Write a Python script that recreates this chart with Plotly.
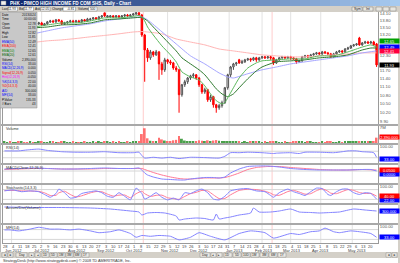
import numpy as np
import pandas as pd
import plotly.graph_objects as go

W, H = 400, 263
FONT = "Liberation Sans, Arial, sans-serif"

# ------------------------------------------------------------------ data
dates = pd.bdate_range("2012-05-25", "2013-05-24")   # trading-day axis
bar_dates = dates[::2]                                # one candle per 2 sessions

open_ = [13.47, 13.51, 13.56, 13.47, 13.51, 13.60, 13.56, 13.65, 13.60, 13.56,
         13.65, 13.60, 13.65, 13.69, 13.60, 13.65, 13.74, 13.78, 13.74, 13.83,
         13.78, 13.65, 13.69, 13.74, 13.78, 13.74, 13.78, 13.74, 13.83, 13.78,
         13.83, 13.87, 13.92, 13.87, 13.96, 14.15, 13.96, 13.96, 14.01, 13.96,
         14.01, 13.96, 14.01, 14.05, 14.01, 14.05, 14.10, 14.15, 14.05, 13.16,
         12.53, 12.21, 12.45, 12.33, 12.45, 11.97, 11.74, 12.13, 12.05, 12.01,
         11.81, 11.74, 10.82, 11.18, 11.29, 11.43, 11.51, 11.55, 11.43, 11.18,
         10.92, 11.00, 10.64, 10.75, 10.47, 10.37, 10.44, 10.54, 11.07, 11.55,
         11.85, 11.97, 12.13, 12.01, 12.05, 12.13, 12.17, 12.13, 12.21, 12.13,
         12.21, 12.25, 12.21, 12.25, 12.21, 12.01, 12.13, 12.21, 12.25, 12.21,
         12.25, 12.21, 12.17, 12.05, 12.09, 12.25, 12.29, 12.25, 12.33, 12.37,
         12.41, 12.37, 12.45, 12.41, 12.37, 12.25, 12.37, 12.45, 12.49, 12.45,
         12.57, 12.61, 12.70, 12.74, 13.03, 12.74, 12.82, 12.86, 12.82, 12.86,
         12.78]
high_ = [13.56, 13.60, 13.60, 13.56, 13.65, 13.65, 13.69, 13.69, 13.65, 13.69,
         13.69, 13.69, 13.74, 13.74, 13.69, 13.78, 13.83, 13.83, 13.87, 13.87,
         13.83, 13.74, 13.78, 13.83, 13.83, 13.83, 13.83, 13.87, 13.87, 13.92,
         13.92, 13.96, 13.96, 14.01, 14.05, 14.15, 14.05, 14.05, 14.05, 14.05,
         14.05, 14.05, 14.10, 14.10, 14.10, 14.15, 14.19, 14.19, 14.10, 13.21,
         12.61, 12.53, 12.49, 12.53, 12.49, 12.05, 12.21, 12.17, 12.13, 12.05,
         11.89, 11.78, 11.21, 11.36, 11.47, 11.55, 11.62, 11.58, 11.47, 11.21,
         11.07, 11.03, 10.82, 10.78, 10.50, 10.50, 10.61, 11.10, 11.59, 11.89,
         12.01, 12.05, 12.17, 12.13, 12.17, 12.21, 12.21, 12.25, 12.25, 12.25,
         12.29, 12.29, 12.29, 12.29, 12.25, 12.17, 12.25, 12.29, 12.29, 12.29,
         12.29, 12.25, 12.21, 12.13, 12.29, 12.33, 12.33, 12.37, 12.41, 12.45,
         12.45, 12.49, 12.49, 12.45, 12.41, 12.41, 12.49, 12.53, 12.53, 12.61,
         12.66, 12.74, 12.78, 12.82, 13.08, 12.86, 12.91, 12.91, 12.91, 12.91,
         12.82]
low_ = [13.42, 13.47, 13.42, 13.42, 13.47, 13.51, 13.51, 13.56, 13.51, 13.51,
        13.56, 13.56, 13.60, 13.56, 13.56, 13.60, 13.69, 13.69, 13.69, 13.74,
        13.60, 13.60, 13.65, 13.69, 13.69, 13.69, 13.69, 13.69, 13.74, 13.74,
        13.78, 13.83, 13.83, 13.83, 13.92, 13.96, 13.92, 13.92, 13.92, 13.92,
        13.92, 13.92, 13.96, 13.96, 13.96, 14.01, 14.05, 14.01, 13.08, 11.29,
        12.05, 12.13, 12.25, 12.29, 11.36, 11.55, 11.66, 11.97, 11.93, 11.74,
        11.66, 10.20, 10.75, 11.10, 11.21, 11.36, 11.43, 11.36, 11.10, 10.85,
        10.85, 10.57, 10.57, 10.37, 10.20, 10.30, 10.37, 10.50, 11.00, 11.47,
        11.74, 11.89, 11.97, 11.97, 12.01, 12.09, 12.05, 12.09, 12.05, 12.09,
        12.17, 12.17, 12.17, 12.13, 11.93, 11.97, 12.09, 12.17, 12.17, 12.17,
        12.13, 12.13, 11.97, 12.01, 12.05, 12.21, 12.21, 12.21, 12.29, 12.33,
        12.33, 12.33, 12.37, 12.33, 12.21, 12.21, 12.33, 12.41, 12.41, 12.41,
        12.53, 12.57, 12.66, 12.70, 12.70, 12.70, 12.78, 12.78, 12.78, 12.70,
        11.85]
close_ = [13.51, 13.56, 13.47, 13.51, 13.60, 13.56, 13.65, 13.60, 13.56, 13.65,
          13.60, 13.65, 13.69, 13.60, 13.65, 13.74, 13.78, 13.74, 13.83, 13.78,
          13.65, 13.69, 13.74, 13.78, 13.74, 13.78, 13.74, 13.83, 13.78, 13.87,
          13.87, 13.92, 13.87, 13.96, 14.01, 14.01, 14.01, 14.01, 13.96, 14.01,
          13.96, 14.01, 14.05, 14.01, 14.05, 14.10, 14.15, 14.05, 13.16, 12.53,
          12.21, 12.45, 12.33, 12.45, 11.97, 11.74, 12.13, 12.05, 12.01, 11.81,
          11.74, 10.82, 11.18, 11.29, 11.43, 11.51, 11.55, 11.43, 11.18, 10.92,
          11.00, 10.64, 10.75, 10.47, 10.37, 10.44, 10.54, 11.07, 11.55, 11.85,
          11.97, 12.01, 12.01, 12.05, 12.13, 12.17, 12.13, 12.21, 12.13, 12.21,
          12.25, 12.21, 12.25, 12.21, 12.01, 12.13, 12.21, 12.25, 12.21, 12.25,
          12.21, 12.17, 12.05, 12.09, 12.25, 12.29, 12.25, 12.33, 12.37, 12.41,
          12.37, 12.45, 12.41, 12.37, 12.25, 12.37, 12.45, 12.49, 12.45, 12.57,
          12.61, 12.70, 12.74, 12.78, 12.74, 12.82, 12.86, 12.82, 12.86, 12.74,
          11.93]
volume_m = [0.45, 0.38, 0.52, 0.41, 0.36, 0.48, 0.55, 0.40, 0.33, 0.47,
            0.39, 0.44, 0.50, 0.62, 0.42, 0.37, 0.46, 0.58, 0.41, 0.35,
            0.82, 0.49, 0.40, 0.38, 0.52, 0.44, 0.36, 0.41, 0.47, 0.39,
            0.43, 0.50, 0.37, 0.45, 0.40, 0.72, 0.48, 0.42, 0.53, 0.39,
            0.46, 0.41, 0.44, 0.51, 0.38, 0.47, 0.55, 0.62, 4.0, 6.6,
            2.1, 1.0, 0.8, 0.9, 2.3, 1.6, 1.1, 0.8, 0.9, 1.2,
            1.4, 3.1, 1.9, 1.1, 0.9, 0.7, 0.8, 0.9, 1.2, 1.0,
            0.9, 1.2, 0.9, 1.1, 1.3, 1.0, 0.8, 0.9, 0.8, 0.6,
            0.5, 0.45, 0.55, 0.4, 0.5, 0.42, 0.48, 0.6, 0.85, 0.45,
            0.4, 0.52, 0.38, 0.47, 0.7, 0.5, 0.43, 0.4, 0.46, 0.39,
            0.44, 0.52, 0.75, 0.9, 0.48, 0.41, 0.45, 0.5, 0.37, 0.44,
            0.4, 0.46, 0.39, 0.55, 0.48, 0.42, 0.4, 0.47, 0.43, 0.52,
            0.45, 0.5, 0.58, 0.62, 0.9, 0.55, 0.48, 0.52, 0.5, 0.7,
            2.39]

# moving averages, read at sample candles (candle numbers)
ema200_k = [0, 5, 10, 15, 20, 25, 30, 35, 40, 45, 48, 50, 55, 60, 65, 70, 75, 80, 85, 90,
            95, 100, 105, 110, 115, 120, 125, 130]
ema200 = [12.74, 12.78, 12.84, 12.91, 12.95, 13.01, 13.08, 13.14, 13.21, 13.29, 13.31, 13.29,
          13.21, 12.99, 12.86, 12.74, 12.57, 12.49, 12.41, 12.33, 12.29, 12.25, 12.25, 12.29,
          12.33, 12.37, 12.41, 12.41]
ema50_k = [0, 5, 10, 15, 20, 25, 30, 35, 40, 45, 48, 50, 55, 60, 65, 70, 75, 78, 80, 85,
           90, 95, 100, 105, 110, 115, 120, 125, 130]
ema50 = [13.08, 13.14, 13.21, 13.34, 13.47, 13.56, 13.65, 13.78, 13.87, 13.94, 13.96, 13.83,
         13.30, 12.78, 12.29, 11.97, 11.62, 11.47, 11.43, 11.59, 11.74, 11.85, 11.97, 12.05,
         12.13, 12.21, 12.29, 12.41, 12.49]
ema10_k = [0, 5, 10, 15, 20, 25, 30, 35, 40, 45, 47, 48, 49, 50, 52, 55, 58, 60, 62, 65,
           68, 70, 72, 74, 76, 77, 78, 80, 82, 85, 88, 90, 95, 100, 105, 110, 115, 120, 125,
           128, 130]
ema10 = [13.47, 13.49, 13.51, 13.60, 13.69, 13.69, 13.78, 13.92, 13.92, 13.99, 14.03, 13.96,
         13.78, 13.51, 13.16, 12.70, 12.33, 12.05, 11.66, 11.47, 11.36, 11.14, 10.85, 10.61,
         10.50, 10.54, 10.71, 11.07, 11.43, 11.81, 12.01, 12.09, 12.13, 12.17, 12.17, 12.29,
         12.29, 12.45, 12.65, 12.74, 12.65]
ema20_k = [0, 5, 10, 15, 20, 25, 30, 35, 40, 45, 48, 50, 52, 55, 58, 60, 62, 65, 68, 70,
           72, 74, 76, 78, 80, 82, 85, 88, 90, 95, 100, 105, 110, 115, 120, 125, 128, 130]
ema20 = [13.42, 13.42, 13.47, 13.51, 13.60, 13.62, 13.69, 13.83, 13.87, 13.92, 13.94, 13.78,
         13.51, 13.12, 12.74, 12.49, 12.21, 11.97, 11.74, 11.55, 11.29, 11.03, 10.85, 10.75,
         10.85, 11.07, 11.40, 11.70, 11.85, 12.05, 12.09, 12.13, 12.21, 12.25, 12.33, 12.53,
         12.61, 12.61]

rsi_k = [0, 5, 8, 12, 15, 20, 25, 30, 35, 40, 45, 47, 48, 49, 52, 55, 58, 61, 65, 70,
         75, 77, 79, 82, 85, 90, 94, 95, 100, 103, 105, 110, 115, 118, 120, 123, 125, 129, 130]
rsi = [72, 72, 78, 83, 75, 67, 64, 64, 67, 61, 61, 64, 44, 28, 33, 28, 33, 25, 33, 31,
       28, 39, 61, 61, 64, 61, 56, 58, 61, 56, 64, 64, 61, 67, 72, 72, 67, 61, 33]

macd_k = [0, 5, 10, 15, 20, 25, 30, 35, 40, 45, 47, 48, 49, 50, 52, 55, 58, 61, 63, 65,
          68, 70, 73, 75, 77, 79, 82, 85, 88, 92, 96, 100, 105, 110, 115, 120, 125, 128, 130]
macd = [0.10, 0.125, 0.15, 0.125, 0.10, 0.10, 0.125, 0.15, 0.125, 0.125, 0.15, 0.05, -0.10,
        -0.20, -0.30, -0.40, -0.425, -0.45, -0.45, -0.40, -0.35, -0.325, -0.325, -0.35, -0.30,
        -0.10, 0.10, 0.225, 0.25, 0.25, 0.20, 0.125, 0.075, 0.05, 0.05, 0.05, 0.075, 0.075, 0.0]
signal_k = [0, 5, 10, 15, 20, 25, 30, 35, 40, 45, 48, 49, 50, 52, 55, 58, 61, 63, 65, 68,
            70, 75, 77, 79, 82, 85, 88, 92, 96, 100, 105, 110, 115, 120, 125, 130]
signal = [0.075, 0.10, 0.125, 0.125, 0.10, 0.10, 0.10, 0.125, 0.125, 0.125, 0.125, 0.075,
          0.025, -0.075, -0.20, -0.30, -0.375, -0.40, -0.40, -0.375, -0.35, -0.35, -0.325,
          -0.25, -0.10, 0.075, 0.175, 0.225, 0.225, 0.175, 0.125, 0.075, 0.05, 0.05, 0.075, 0.05]

stoch_k = [0, 3, 6, 9, 12, 14, 16, 18, 19, 21, 23, 25, 27, 30, 32, 34, 36, 38, 40, 42,
           44, 46, 48, 49, 51, 53, 55, 57, 59, 61, 63, 65, 67, 69, 71, 73, 75, 77, 79, 82,
           85, 88, 91, 93, 94, 96, 99, 101, 103, 105, 107, 109, 111, 113, 114, 116, 118, 120,
           122, 124, 126, 128, 130]
pct_k = [72, 78, 67, 72, 67, 50, 33, 56, 83, 61, 28, 33, 56, 67, 72, 61, 39, 33, 61, 39,
         17, 89, 56, 22, 39, 61, 33, 17, 28, 17, 61, 56, 72, 83, 61, 22, 17, 39, 72, 83,
         86, 72, 67, 44, 33, 61, 83, 67, 56, 44, 67, 89, 86, 50, 44, 67, 83, 83, 61, 50,
         61, 56, 22]
pct_d = [74, 75, 72, 71, 69, 60, 44, 45, 60, 70, 50, 35, 42, 60, 68, 67, 52, 40, 46, 47,
         30, 55, 70, 55, 38, 45, 46, 30, 25, 20, 38, 55, 63, 75, 72, 48, 25, 26, 48, 75,
         82, 80, 70, 58, 48, 45, 68, 75, 65, 52, 55, 73, 85, 70, 58, 55, 68, 80, 75, 62,
         56, 57, 40]

ad_k = [0, 9, 19, 30, 37, 44, 47, 48, 50, 53, 56, 60, 61, 63, 67, 70, 73, 74, 75, 77,
        79, 82, 86, 87, 89, 93, 96, 100, 103, 107, 110, 114, 117, 122, 126, 130]
ad_m = [0.90, 0.825, 0.825, 0.75, 0.60, 0.30, 0.15, -0.30, 0.00, 0.075, 0.00, -0.45, -1.05,
        -0.90, -0.75, -0.825, -1.05, -0.15, -0.90, -0.75, -0.60, -0.30, 0.00, 0.75, 0.15,
        0.15, 0.30, 0.60, 0.15, 0.075, 0.00, 0.075, 0.15, 0.60, 0.45, 0.30]

mfi_k = [0, 2, 5, 9, 12, 16, 19, 23, 26, 30, 33, 37, 40, 44, 46, 48, 51, 54, 58, 61,
         65, 68, 72, 77, 82, 86, 91, 94, 100, 103, 107, 110, 112, 115, 117, 121, 124, 128, 130]
mfi = [78, 78, 72, 83, 94, 83, 83, 78, 83, 72, 61, 67, 78, 56, 33, 44, 39, 44, 39, 17,
       33, 61, 39, 17, 56, 72, 61, 28, 56, 50, 67, 72, 89, 67, 61, 72, 67, 56, 33]

# price-axis labels (12.90, 12.60 and 12.00 sit under the value boxes and are not visible)
price_ticks = [9.90, 10.20, 10.50, 10.80, 11.10, 11.40, 11.70, 12.30,
               13.20, 13.50, 13.80, 14.10]
marker_dates = ["2012-10-09", "2013-02-12"]
title_text = "PHK - PIMCO HIGH INCOME FD COM SHS, Daily - Chart"
bid, ask, quote_vol = "11.77", "12.05", "500"

# ------------------------------------------------------------------ helpers
day_pos = {d: i for i, d in enumerate(dates)}
bar_x = [day_pos[d] for d in bar_dates]


def kx(ks):
    return [bar_x[k] for k in ks]


def py(p):
    return 1 - p / H


X0, X1 = 3, 378
FRAME = "#9a9a9a"
PANELS = [(12, 124), (126, 143), (145, 163), (165, 183), (185, 203), (205, 223), (225, 243)]

fig = go.Figure()
layout = {}
for i, (top, bot) in enumerate(PANELS):
    n = "" if i == 0 else str(i + 1)
    layout["xaxis" + n] = dict(domain=[X0 / W, X1 / W], range=[-1, len(dates)], anchor="y" + n,
                               showgrid=False, zeroline=False, showline=True, mirror=True,
                               linecolor=FRAME, linewidth=1, showticklabels=False, ticks="",
                               fixedrange=True)
    layout["yaxis" + n] = dict(domain=[py(bot), py(top)], anchor="x" + n, side="right",
                               showgrid=False, zeroline=False, showline=True, mirror=True,
                               linecolor=FRAME, linewidth=1, ticks="", fixedrange=True,
                               tickfont=dict(size=4.3, color="#555", family=FONT),
                               showticklabels=False)
layout["xaxis"]["rangeslider"] = dict(visible=False)
layout["yaxis"].update(type="log", range=[np.log10(9.83), np.log10(14.19)], showticklabels=True,
                       tickvals=price_ticks, ticktext=[f"{v:.2f}" for v in price_ticks])
layout["yaxis2"].update(range=[0, 7.6e6], showticklabels=True, tickvals=[7e6], ticktext=["7M"])
for ax in ("yaxis3", "yaxis5", "yaxis7"):
    layout[ax].update(range=[-2, 108], showticklabels=True, tickvals=[100], ticktext=["100.00"])
layout["yaxis4"].update(range=[-0.60, 0.30])
layout["yaxis6"].update(range=[-1.5, 1.2])

# ------------------------------------------------------------------ traces
ma_specs = [(ema200_k, ema200, "#ffb4b4"), (ema50_k, ema50, "#a6a6ff"),
            (ema20_k, ema20, "#2f7a2f"), (ema10_k, ema10, "#5cb85c")]
for ks, vals, col in ma_specs:
    fig.add_trace(go.Scatter(x=kx(ks), y=vals, mode="lines", xaxis="x", yaxis="y",
                             line=dict(color=col, width=1, shape="spline", smoothing=0.5),
                             hoverinfo="skip", showlegend=False))
fig.add_trace(go.Candlestick(x=bar_x, open=open_, high=high_, low=low_, close=close_,
                             xaxis="x", yaxis="y", whiskerwidth=0,
                             increasing=dict(line=dict(color="#505050", width=1), fillcolor="#ffffff"),
                             decreasing=dict(line=dict(color="#ff0000", width=1), fillcolor="#ff0000"),
                             hoverinfo="skip", showlegend=False))

vcol = ["#ff7070" if c < o else "#4aa04a" for o, c in zip(open_, close_)]
fig.add_trace(go.Bar(x=bar_x, y=[v * 1e6 for v in volume_m], width=1.3, xaxis="x2", yaxis="y2",
                     marker=dict(color=vcol, line=dict(width=0)), hoverinfo="skip", showlegend=False))


def line(ks, vals, col, n, w=1):
    fig.add_trace(go.Scatter(x=kx(ks), y=vals, mode="lines", xaxis="x" + n, yaxis="y" + n,
                             line=dict(color=col, width=w, shape="spline", smoothing=0.5),
                             hoverinfo="skip", showlegend=False))


BLUE_L = "#8484ff"
RED_L = "#ff7a96"
line(rsi_k, rsi, BLUE_L, "3")
line(signal_k, signal, RED_L, "4")
line(macd_k, macd, BLUE_L, "4")
line(stoch_k, pct_d, RED_L, "5")
line(stoch_k, pct_k, BLUE_L, "5")
line(ad_k, ad_m, BLUE_L, "6")
line(mfi_k, mfi, BLUE_L, "7")

# ------------------------------------------------------------------ shapes
shapes = []
annotations = []


def rect(x0, y0, x1, y1, fill, lc=None, layer="above", lw=1):
    shapes.append(dict(type="rect", xref="paper", yref="paper", x0=x0 / W, x1=x1 / W,
                       y0=py(y1), y1=py(y0), fillcolor=fill, layer=layer,
                       line=dict(color=lc or fill, width=lw if lc else 0)))


def text(x, y, s, size=4, color="#222", anchor="left", bold=False, pad=1):
    annotations.append(dict(xref="paper", yref="paper", x=x / W, y=py(y), text=(f"<b>{s}</b>" if bold else s),
                            showarrow=False, xanchor=anchor, yanchor="middle", borderpad=pad,
                            font=dict(size=size, color=color, family=FONT)))


# month grid lines and event markers
s_idx = pd.Series(range(len(dates)), index=dates)
month_first = s_idx.groupby([dates.year, dates.month]).first().tolist()[1:]
for i in month_first:
    shapes.append(dict(type="line", xref="x", yref="paper", x0=i, x1=i, y0=py(243), y1=py(12),
                       line=dict(color="#e2e2e2", width=1), layer="below"))
for d in marker_dates:
    i = day_pos[pd.Timestamp(d)]
    shapes.append(dict(type="line", xref="x", yref="paper", x0=i, x1=i, y0=py(243), y1=py(12),
                       line=dict(color="#ffcccc", width=1), layer="below"))

# horizontal reference lines in oscillators
for yref, v in [("y3", 30), ("y3", 70), ("y4", 0), ("y5", 20), ("y5", 80), ("y7", 20), ("y7", 80)]:
    shapes.append(dict(type="line", xref="paper", yref=yref, x0=X0 / W, x1=X1 / W, y0=v, y1=v,
                       line=dict(color="#d6d6d6", width=1), layer="below"))

# panel separators and window frame
for y0, y1 in [(124, 126), (143, 145), (163, 165), (183, 185), (203, 205), (223, 225)]:
    rect(0, y0, 400, y1, "#a8a8a8")
rect(0, 12, 1, 252, "#b8b8b8")
rect(398, 6, 400, 263, "#d4d0c8")

# title bar gradient
c0, c1 = np.array([10, 36, 106]), np.array([166, 202, 240])
for j in range(40):
    c = (c0 + (c1 - c0) * j / 39).astype(int)
    rect(j * 10, 0, j * 10 + 10, 6, f"rgb({c[0]},{c[1]},{c[2]})")
rect(1, 1, 6, 5, "#f0f0f0", "#808080", lw=0.5)
text(8, 3.2, title_text, size=4.6, color="white", bold=True)

# quote toolbar
rect(0, 6, 400, 12, "#d4d0c8")
last = close_[-1]
chg = close_[-1] - close_[-2]
for lab, x in [("Last", 0.6), ("Bid", 18.4), ("Ask", 34.4), ("Change", 51.0), ("Volume", 76.6)]:
    text(x, 9, lab, size=3.2, color="#111", pad=0)
for x0, x1, v in [(8, 17.5, f"{last:.2f}"), (24, 33.5, bid), (40.5, 50, ask),
                  (63, 75.5, f"{chg:+.2f}"), (88.5, 97, quote_vol)]:
    rect(x0, 7, x1, 11, "#ffffff", "#808080", lw=0.5)
    text(x1 - 0.5, 9, v, size=3.2, color="#111", anchor="right", pad=0)
for x0, x1, lab in [(352, 362, "Sym"), (363, 373, "Int")]:
    rect(x0, 7, x1, 11, "#e8e6e0", "#808080", lw=0.5)
    text((x0 + x1) / 2, 9, lab, size=3.4, anchor="center", pad=0)
for x0 in (376, 383, 390):
    rect(x0, 7, x0 + 6, 11, "#e8e6e0", "#808080", lw=0.5)

# data window (left)
rect(0, 12, 37, 108, "#c8c8c8", "#8a8a8a", lw=0.5)
rows = [("Date", dates[-1].strftime("%Y%m%d"), "#000"), ("Time", "00:00:00", "#000"),
        ("Open", f"{open_[-1]:.2f}", "#000"), ("Close", f"{close_[-1]:.2f}", "#000"),
        ("High", f"{high_[-1]:.2f}", "#000"), ("Low", f"{low_[-1]:.2f}", "#000"),
        ("EMA(50)", f"{ema50[-1]:.2f}", "#0000ff"), ("EMA(200)", f"{ema200[-1]:.2f}", "#ff0000"),
        ("EMA(10)", f"{ema10[-1]:.2f}", "#008000"), ("EMA(20)", f"{ema20[-1]:.2f}", "#006400"),
        ("Volume", f"{int(volume_m[-1] * 1e6):,}", "#000"), ("RSI(14)", f"{rsi[-1]:.2f}", "#0000ff"),
        ("MACD(12,26,9)", f"{macd[-1]:.3f}", "#0000ff"),
        ("Signal(12,26,9)", f"{signal[-1]:.3f}", "#ff0000"),
        ("Hist(12,26,9)", f"{macd[-1] - signal[-1]:.3f}", "#ff00ff"),
        ("%K(14,3,3)", f"{pct_k[-1]:.2f}", "#0000ff"), ("%D(14,3,3)", f"{pct_d[-1]:.2f}", "#ff0000"),
        ("A/D", f"{int(ad_m[-1] * 1e6):,}", "#0000ff"), ("MFI(14)", f"{mfi[-1]:.2f}", "#0000ff"),
        ("P.Value", "135.33", "#000"), ("# Bars", "43", "#000")]
for r, (lab, val, col) in enumerate(rows):
    yy = 15 + r * 4.45
    text(0.8, yy, lab, size=3.1, color=col, pad=0)
    text(36.5, yy, val, size=3.1, color="#111", anchor="right", pad=0)

# panel titles
for (top, _), lab in zip(PANELS[1:], ["Volume", "RSI(14)", "MACD(Close,12,26,9)", "Stochastic(14,3,3)",
                                        "Accum/Dist(Volume)", "MFI(14)"]):
    text(4, top + 3, lab, size=3.8, color="#333")


# value boxes on the right
def vbox(yc, color, s):
    annotations.append(dict(xref="paper", yref="paper", x=379 / W, y=py(yc), xanchor="left",
                            yanchor="middle", text=s, showarrow=False, bgcolor=color,
                            font=dict(size=4, color="white", family=FONT), width=19, height=4,
                            borderpad=0, align="center"))


vbox(41.5, "#00a000", f"{ema10[-1]:.2f}")
vbox(47.4, "#0000ff", f"{ema50[-1]:.2f}")
vbox(51.4, "#ff0040", f"{ema200[-1]:.2f}")
vbox(65.5, "#000000", f"{close_[-1]:.2f}")
vbox(137, "#ff0000", f"{int(volume_m[-1] * 1e6):,}")
vbox(158.5, "#0000ff", f"{rsi[-1]:.2f}")
vbox(174, "#0000ff", f"{macd[-1]:.4f}")
vbox(170, "#ff0000", f"{signal[-1]:.4f}")
vbox(200, "#0000ff", f"{pct_k[-1]:.2f}")
vbox(196, "#ff0000", f"{pct_d[-1]:.2f}")
vbox(211, "#0000ff", f"{int(ad_m[-1] * 1e6):,}")
vbox(237, "#0000ff", f"{mfi[-1]:.2f}")

# date axis labels (Mondays) and months
mondays = [i for i, d in enumerate(dates) if d.weekday() == 0]
seen = {(dates[0].year, dates[0].month)}
for i in mondays:
    d = dates[i]
    annotations.append(dict(xref="x", yref="paper", x=i, y=py(246.5), text=str(d.day), showarrow=False,
                            xanchor="center", yanchor="middle",
                            font=dict(size=4, color="#404040", family=FONT)))
    if (d.year, d.month) not in seen:
        seen.add((d.year, d.month))
        annotations.append(dict(xref="x", yref="paper", x=i, y=py(250.3), text=d.strftime("%b %Y"),
                                showarrow=False, xanchor="center", yanchor="middle",
                                font=dict(size=4, color="#404040", family=FONT)))

# bottom toolbar + copyright
rect(0, 252, 398, 258, "#d4d0c8")
btns = [(2, 7, "◄"), (8, 13, "►"), (16, 27, "Day"), (29, 34, "▸"), (35, 40, "◂"),
        (42, 49, "1D"), (50, 57, "5D"), (58, 65, "1M"), (66, 73, "3M"), (74, 81, "6M"),
        (82, 89, "1Y"), (200, 210, "Day"), (211, 216, "◂"), (217, 222, "▸"), (224, 232, "1D"),
        (233, 241, "5D"), (242, 250, "10D"), (251, 259, "1M"), (260, 268, "3M"),
        (269, 277, "6M"), (278, 286, "1Y"), (386, 391, "◄"), (392, 397, "►")]
for x0, x1, lab in btns:
    rect(x0, 252.8, x1, 257.2, "#ebe9e3", "#8c8c8c", lw=0.5)
    text((x0 + x1) / 2, 255, lab, size=3.2, color="#222", anchor="center", pad=0)
text(1, 260.5, "StrategyDesk (http://www.strategydesk.com) © 2008 TD AMERITRADE, Inc.",
     size=3.8, color="#333")

layout.update(dict(width=W, height=H, margin=dict(l=0, r=0, t=0, b=0), paper_bgcolor="white",
                   plot_bgcolor="white", showlegend=False, hovermode=False, shapes=shapes,
                   annotations=annotations, font=dict(family=FONT)))
fig.update_layout(**layout)
fig.write_html("out.html")
